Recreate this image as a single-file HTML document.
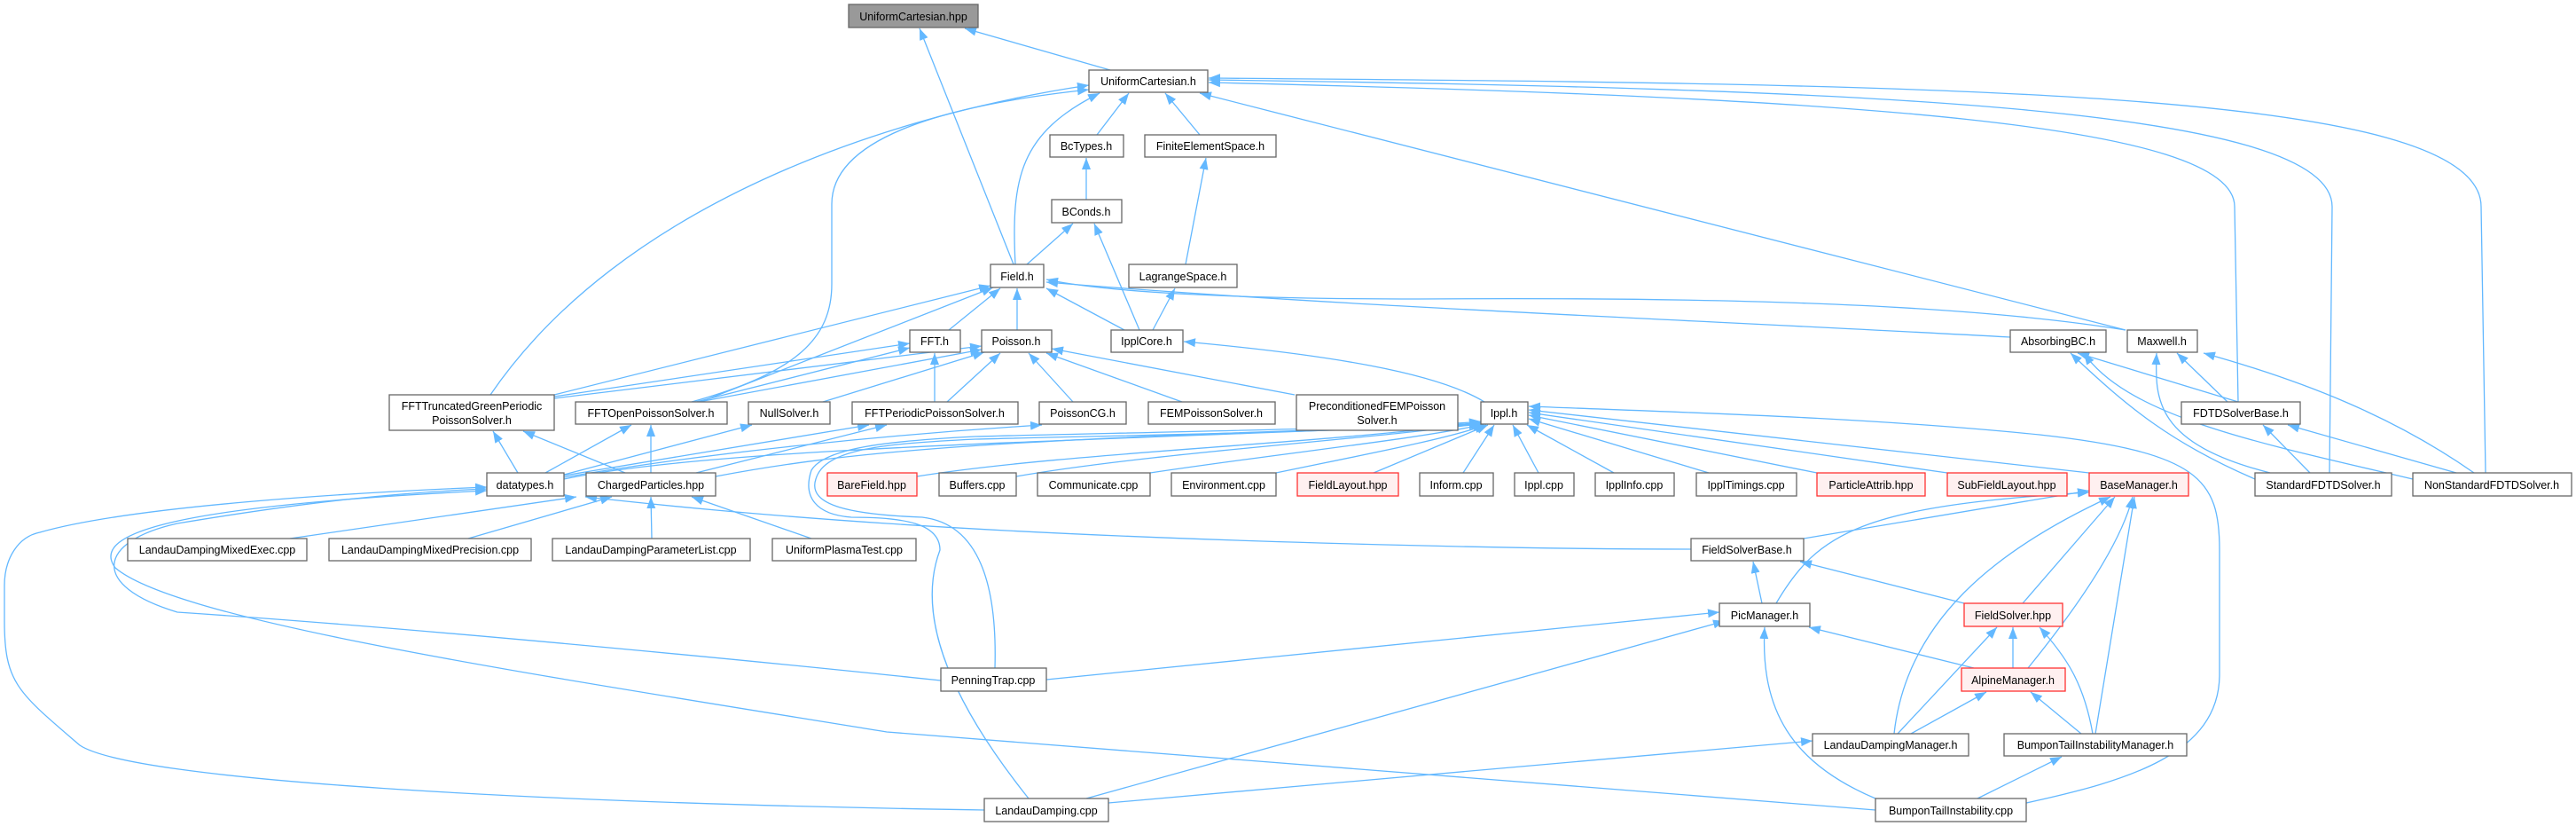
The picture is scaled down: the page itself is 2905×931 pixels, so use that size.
<!DOCTYPE html>
<html><head><meta charset="utf-8"><style>
html,body{margin:0;padding:0;background:#fff;}
svg{display:block;}
text{font-family:"Liberation Sans",Arial,sans-serif;font-size:12.5px;fill:#000;}
.n{fill:#fff;stroke:#666;stroke-width:1.3;}
.r{fill:#fff0f0;stroke:#f33;stroke-width:1.3;}
.g{fill:#999;stroke:#666;stroke-width:1.3;}
.e{fill:none;stroke:#63b8ff;stroke-width:1.3;marker-end:url(#a);}
</style></head><body>
<svg width="2905" height="931" viewBox="0 0 2905 931" xmlns="http://www.w3.org/2000/svg">
<defs><marker id="a" markerUnits="userSpaceOnUse" markerWidth="14" markerHeight="12" refX="13" refY="5" orient="auto"><path d="M0,0 L13,5 L0,10 z" fill="#63b8ff"/></marker></defs>
<g>
<path class="e" d="M1252,79 L1088,32"/>
<path class="e" d="M1143,298 L1037,32"/>
<path class="e" d="M1237,152 L1273,105"/>
<path class="e" d="M1353,152 L1314,105"/>
<path class="e" d="M1145,298 C1140,200 1150,150 1240,105"/>
<path class="e" d="M553,445 C700,230 1000,130 1228,96"/>
<path class="e" d="M780,453 C900,420 938,380 938,320 L938,230 C938,160 1050,120 1228,101"/>
<path class="e" d="M2397,372 L1353,105"/>
<path class="e" d="M2524,453 L2520,233 C2520,140 2100,110 1363,93"/>
<path class="e" d="M2627,533 L2630,233 C2630,120 2100,100 1363,90"/>
<path class="e" d="M2803,533 L2798,233 C2798,100 2200,95 1363,88"/>
<path class="e" d="M1225,225 L1225,178"/>
<path class="e" d="M1158,298 L1210,252"/>
<path class="e" d="M1285,372 L1234,252"/>
<path class="e" d="M1337,298 L1360,178"/>
<path class="e" d="M1300,372 L1325,325"/>
<path class="e" d="M1070,372 L1128,325"/>
<path class="e" d="M1147,372 L1147,325"/>
<path class="e" d="M1268,372 L1180,325"/>
<path class="e" d="M625,445 L1117,322"/>
<path class="e" d="M790,453 L1120,324"/>
<path class="e" d="M2267,380 C1900,360 1500,345 1180,318"/>
<path class="e" d="M2397,372 C2200,340 1900,335 1600,337 C1400,337 1250,330 1180,315"/>
<path class="e" d="M625,447 L1026,387"/>
<path class="e" d="M785,453 L1026,392"/>
<path class="e" d="M1054,453 L1054,398"/>
<path class="e" d="M625,449 L1107,390"/>
<path class="e" d="M788,453 L1107,394"/>
<path class="e" d="M928,453 L1110,397"/>
<path class="e" d="M1068,453 L1128,398"/>
<path class="e" d="M1210,453 L1160,398"/>
<path class="e" d="M1333,453 L1180,398"/>
<path class="e" d="M1460,445 L1186,393"/>
<path class="e" d="M1674,453 C1620,420 1500,400 1335,385"/>
<path class="e" d="M584,533 L556,486"/>
<path class="e" d="M615,533 L712,479"/>
<path class="e" d="M636,535 L848,479"/>
<path class="e" d="M636,536 L980,479"/>
<path class="e" d="M636,538 C800,510 1000,490 1175,479"/>
<path class="e" d="M636,540 C800,505 1200,498 1670,478"/>
<path class="e" d="M705,533 L590,486"/>
<path class="e" d="M734,533 L734,479"/>
<path class="e" d="M785,533 L1000,479"/>
<path class="e" d="M807,537 C950,510 1100,495 1670,479"/>
<path class="e" d="M327,607 L650,560"/>
<path class="e" d="M528,607 L690,560"/>
<path class="e" d="M735,607 L734,560"/>
<path class="e" d="M915,607 L780,560"/>
<path class="e" d="M1907,619 C1700,619 1300,610 1000,590 C850,580 750,570 660,560"/>
<path class="e" d="M1110,913 C600,905 150,880 90,840 C20,780 5,770 5,700 L5,660 C5,630 20,605 45,600 C150,570 400,555 549,549"/>
<path class="e" d="M2115,913 C1700,880 1200,840 1000,825 C600,760 200,700 130,640 C100,600 200,570 549,553"/>
<path class="e" d="M1061,767 C900,750 500,710 200,690 C100,660 110,610 200,590 C350,565 450,555 549,551"/>
<path class="e" d="M1122,753 C1125,650 1100,590 1040,583 C960,580 910,570 920,540 C930,505 1000,500 1100,495 C1300,490 1600,485 1670,476"/>
<path class="e" d="M1160,900 C1080,800 1030,700 1060,620 C1060,590 1020,583 960,583 C920,580 905,560 915,530 C930,505 1000,497 1100,492 C1300,487 1600,482 1670,475"/>
<path class="e" d="M1034,537 C1200,510 1500,500 1672,476"/>
<path class="e" d="M1146,537 C1300,510 1550,495 1672,477"/>
<path class="e" d="M1297,533 C1450,510 1600,495 1674,478"/>
<path class="e" d="M1439,533 C1550,510 1630,495 1676,479"/>
<path class="e" d="M1549,533 L1678,479"/>
<path class="e" d="M1650,533 L1685,479"/>
<path class="e" d="M1735,533 L1706,479"/>
<path class="e" d="M1820,533 L1722,479"/>
<path class="e" d="M1927,533 L1724,472"/>
<path class="e" d="M2049,533 L1724,468"/>
<path class="e" d="M2196,533 L1724,465"/>
<path class="e" d="M2356,533 L1724,462"/>
<path class="e" d="M2285,905 C2400,880 2503,850 2503,760 L2503,620 C2503,540 2480,510 2300,490 C2100,470 1900,465 1724,458"/>
<path class="e" d="M2034,607 L2356,553"/>
<path class="e" d="M2003,680 C2050,600 2100,570 2356,555"/>
<path class="e" d="M2281,680 L2385,560"/>
<path class="e" d="M2136,827 C2150,700 2250,620 2380,560"/>
<path class="e" d="M2287,753 C2330,700 2390,620 2405,560"/>
<path class="e" d="M2363,827 L2407,560"/>
<path class="e" d="M1987,680 L1977,633"/>
<path class="e" d="M2215,680 L2030,633"/>
<path class="e" d="M1180,766 L1939,690"/>
<path class="e" d="M1225,900 L1945,700"/>
<path class="e" d="M2226,753 L2040,707"/>
<path class="e" d="M2115,900 C2020,860 1985,800 1990,707"/>
<path class="e" d="M2270,753 L2270,707"/>
<path class="e" d="M2140,827 L2252,707"/>
<path class="e" d="M2360,827 C2350,770 2330,740 2300,707"/>
<path class="e" d="M2155,827 L2240,780"/>
<path class="e" d="M2347,827 L2290,780"/>
<path class="e" d="M1250,905 L2044,835"/>
<path class="e" d="M2230,900 L2325,853"/>
<path class="e" d="M2524,453 L2343,398"/>
<path class="e" d="M2512,453 L2455,398"/>
<path class="e" d="M2543,540 C2450,500 2400,460 2335,398"/>
<path class="e" d="M2560,533 C2430,500 2430,450 2432,398"/>
<path class="e" d="M2721,540 C2550,500 2400,470 2350,398"/>
<path class="e" d="M2790,533 C2700,470 2600,430 2485,398"/>
<path class="e" d="M2605,533 L2552,479"/>
<path class="e" d="M2770,533 L2580,479"/>
</g>
<g>
<rect class="g" x="957" y="5" width="146" height="26"/><text x="1030" y="23" text-anchor="middle">UniformCartesian.hpp</text>
<rect class="n" x="1228" y="79" width="134" height="25"/><text x="1295" y="96" text-anchor="middle">UniformCartesian.h</text>
<rect class="n" x="1184" y="152" width="83" height="25"/><text x="1225" y="169" text-anchor="middle">BcTypes.h</text>
<rect class="n" x="1291" y="152" width="148" height="25"/><text x="1365" y="169" text-anchor="middle">FiniteElementSpace.h</text>
<rect class="n" x="1186" y="225" width="79" height="26"/><text x="1225" y="243" text-anchor="middle">BConds.h</text>
<rect class="n" x="1117" y="298" width="60" height="26"/><text x="1147" y="316" text-anchor="middle">Field.h</text>
<rect class="n" x="1273" y="298" width="122" height="26"/><text x="1334" y="316" text-anchor="middle">LagrangeSpace.h</text>
<rect class="n" x="1026" y="372" width="57" height="25"/><text x="1054" y="389" text-anchor="middle">FFT.h</text>
<rect class="n" x="1107" y="372" width="79" height="25"/><text x="1146" y="389" text-anchor="middle">Poisson.h</text>
<rect class="n" x="1253" y="372" width="81" height="25"/><text x="1293" y="389" text-anchor="middle">IpplCore.h</text>
<rect class="n" x="2267" y="372" width="108" height="25"/><text x="2321" y="389" text-anchor="middle">AbsorbingBC.h</text>
<rect class="n" x="2399" y="372" width="79" height="25"/><text x="2438" y="389" text-anchor="middle">Maxwell.h</text>
<rect class="n" x="439" y="445" width="186" height="40"/><text x="532" y="462" text-anchor="middle">FFTTruncatedGreenPeriodic</text><text x="532" y="478" text-anchor="middle">PoissonSolver.h</text>
<rect class="n" x="649" y="453" width="171" height="25"/><text x="734" y="470" text-anchor="middle">FFTOpenPoissonSolver.h</text>
<rect class="n" x="844" y="453" width="92" height="25"/><text x="890" y="470" text-anchor="middle">NullSolver.h</text>
<rect class="n" x="961" y="453" width="187" height="25"/><text x="1054" y="470" text-anchor="middle">FFTPeriodicPoissonSolver.h</text>
<rect class="n" x="1172" y="453" width="98" height="25"/><text x="1221" y="470" text-anchor="middle">PoissonCG.h</text>
<rect class="n" x="1295" y="453" width="143" height="25"/><text x="1366" y="470" text-anchor="middle">FEMPoissonSolver.h</text>
<rect class="n" x="1462" y="445" width="182" height="40"/><text x="1553" y="462" text-anchor="middle">PreconditionedFEMPoisson</text><text x="1553" y="478" text-anchor="middle">Solver.h</text>
<rect class="n" x="1670" y="453" width="53" height="25"/><text x="1696" y="470" text-anchor="middle">Ippl.h</text>
<rect class="n" x="2460" y="453" width="134" height="25"/><text x="2527" y="470" text-anchor="middle">FDTDSolverBase.h</text>
<rect class="n" x="549" y="533" width="87" height="26"/><text x="592" y="551" text-anchor="middle">datatypes.h</text>
<rect class="n" x="661" y="533" width="146" height="26"/><text x="734" y="551" text-anchor="middle">ChargedParticles.hpp</text>
<rect class="r" x="933" y="533" width="101" height="26"/><text x="983" y="551" text-anchor="middle">BareField.hpp</text>
<rect class="n" x="1059" y="533" width="87" height="26"/><text x="1102" y="551" text-anchor="middle">Buffers.cpp</text>
<rect class="n" x="1170" y="533" width="127" height="26"/><text x="1233" y="551" text-anchor="middle">Communicate.cpp</text>
<rect class="n" x="1321" y="533" width="118" height="26"/><text x="1380" y="551" text-anchor="middle">Environment.cpp</text>
<rect class="r" x="1463" y="533" width="114" height="26"/><text x="1520" y="551" text-anchor="middle">FieldLayout.hpp</text>
<rect class="n" x="1601" y="533" width="83" height="26"/><text x="1642" y="551" text-anchor="middle">Inform.cpp</text>
<rect class="n" x="1708" y="533" width="67" height="26"/><text x="1741" y="551" text-anchor="middle">Ippl.cpp</text>
<rect class="n" x="1799" y="533" width="89" height="26"/><text x="1843" y="551" text-anchor="middle">IpplInfo.cpp</text>
<rect class="n" x="1913" y="533" width="113" height="26"/><text x="1969" y="551" text-anchor="middle">IpplTimings.cpp</text>
<rect class="r" x="2049" y="533" width="122" height="26"/><text x="2110" y="551" text-anchor="middle">ParticleAttrib.hpp</text>
<rect class="r" x="2196" y="533" width="135" height="26"/><text x="2263" y="551" text-anchor="middle">SubFieldLayout.hpp</text>
<rect class="r" x="2356" y="533" width="112" height="26"/><text x="2412" y="551" text-anchor="middle">BaseManager.h</text>
<rect class="n" x="2543" y="533" width="154" height="26"/><text x="2620" y="551" text-anchor="middle">StandardFDTDSolver.h</text>
<rect class="n" x="2721" y="533" width="179" height="26"/><text x="2810" y="551" text-anchor="middle">NonStandardFDTDSolver.h</text>
<rect class="n" x="144" y="607" width="202" height="25"/><text x="245" y="624" text-anchor="middle">LandauDampingMixedExec.cpp</text>
<rect class="n" x="371" y="607" width="228" height="25"/><text x="485" y="624" text-anchor="middle">LandauDampingMixedPrecision.cpp</text>
<rect class="n" x="623" y="607" width="223" height="25"/><text x="734" y="624" text-anchor="middle">LandauDampingParameterList.cpp</text>
<rect class="n" x="871" y="607" width="162" height="25"/><text x="952" y="624" text-anchor="middle">UniformPlasmaTest.cpp</text>
<rect class="n" x="1907" y="607" width="127" height="25"/><text x="1970" y="624" text-anchor="middle">FieldSolverBase.h</text>
<rect class="n" x="1939" y="680" width="102" height="26"/><text x="1990" y="698" text-anchor="middle">PicManager.h</text>
<rect class="r" x="2215" y="680" width="111" height="26"/><text x="2270" y="698" text-anchor="middle">FieldSolver.hpp</text>
<rect class="n" x="1061" y="753" width="119" height="26"/><text x="1120" y="771" text-anchor="middle">PenningTrap.cpp</text>
<rect class="r" x="2212" y="753" width="117" height="26"/><text x="2270" y="771" text-anchor="middle">AlpineManager.h</text>
<rect class="n" x="2044" y="827" width="176" height="25"/><text x="2132" y="844" text-anchor="middle">LandauDampingManager.h</text>
<rect class="n" x="2260" y="827" width="206" height="25"/><text x="2363" y="844" text-anchor="middle">BumponTailInstabilityManager.h</text>
<rect class="n" x="1110" y="900" width="140" height="26"/><text x="1180" y="918" text-anchor="middle">LandauDamping.cpp</text>
<rect class="n" x="2115" y="900" width="170" height="26"/><text x="2200" y="918" text-anchor="middle">BumponTailInstability.cpp</text>
</g>
</svg>
</body></html>
